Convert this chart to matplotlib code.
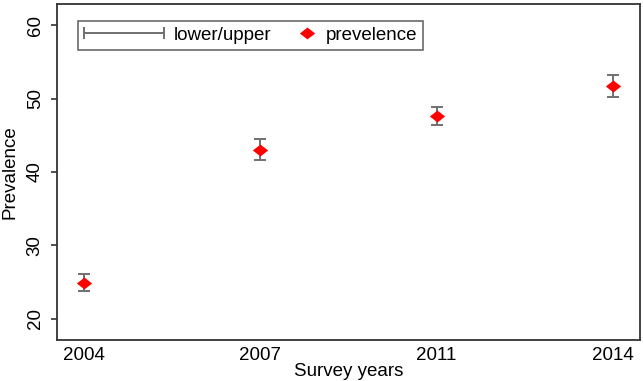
import numpy as np
import matplotlib
matplotlib.use('Agg')
import matplotlib.pyplot as plt
from matplotlib.legend_handler import HandlerErrorbar

plt.rcParams['font.family'] = ['Liberation Sans', 'DejaVu Sans']

# survey data
years = ['2004', '2007', '2011', '2014']
prevalence = [24.9, 43.0, 47.6, 51.7]
lower = [23.8, 41.6, 46.4, 50.2]
upper = [26.1, 44.5, 48.8, 53.2]
yticks = [20, 30, 40, 50, 60]

GRAY = '#707070'
RED = '#ff0000'
FS = 13.5

# slightly wide diamond
diamond = [(-1, 0), (0, 0.78), (1, 0), (0, -0.78), (-1, 0)]


class WideErrorbarHandler(HandlerErrorbar):
    """errorbar legend entry with its own (longer) handle width"""
    def __init__(self, length, **kw):
        self.length = length
        super().__init__(xerr_size=length / 2.0, **kw)

    def legend_artist(self, legend, orig_handle, fontsize, handlebox):
        handlebox.width = self.length * fontsize
        return super().legend_artist(legend, orig_handle, fontsize, handlebox)


fig = plt.figure(figsize=(6.44, 3.81), dpi=100)
ax = fig.add_axes([57 / 644, 41 / 381, 583 / 644, 336 / 381])

x = np.arange(len(years))
prev = np.array(prevalence)
yerr = [prev - np.array(lower), np.array(upper) - prev]

ax.errorbar(x, prev, yerr=yerr, fmt='none', ecolor=GRAY, elinewidth=1.4,
            capsize=4.5, capthick=1.4, zorder=2)
pts, = ax.plot(x, prev, linestyle='none', marker=diamond, markersize=11,
               color=RED, markeredgewidth=0, zorder=3, label='prevelence')

# proxy for the horizontal lower/upper legend entry
proxy = ax.errorbar([np.nan], [np.nan], xerr=[1], fmt='none', ecolor=GRAY,
                    elinewidth=1.4, capsize=4.5, capthick=1.4, label='lower/upper')

ax.set_xlim(-0.153, 3.153)
ax.set_ylim(17.1, 62.9)
ax.set_xticks(x)
ax.set_xticklabels(years)
ax.set_yticks(yticks)
ax.tick_params(axis='x', labelsize=FS, length=0, pad=5)
ax.tick_params(axis='y', labelsize=FS, length=4.5, width=1.2, color='#333333', pad=5)
for lab in ax.get_yticklabels():
    lab.set_rotation(90)
    lab.set_va('center')

for sp in ax.spines.values():
    sp.set_linewidth(1.3)
    sp.set_color('#333333')

ax.set_xlabel('Survey years', fontsize=FS, labelpad=-1)
ax.set_ylabel('Prevalence', fontsize=FS, labelpad=6)

leg = ax.legend([proxy, pts], ['lower/upper', 'prevelence'], ncol=2,
                loc='upper left', bbox_to_anchor=(0.036, 0.949), borderaxespad=0,
                fontsize=FS, fancybox=False, frameon=True, handlelength=1.0,
                handletextpad=0.5, columnspacing=1.4, borderpad=0.3,
                handler_map={type(proxy): WideErrorbarHandler(4.3)})
leg.get_frame().set_edgecolor('#444444')
leg.get_frame().set_linewidth(1.2)

fig.savefig('out.png', dpi=100)
